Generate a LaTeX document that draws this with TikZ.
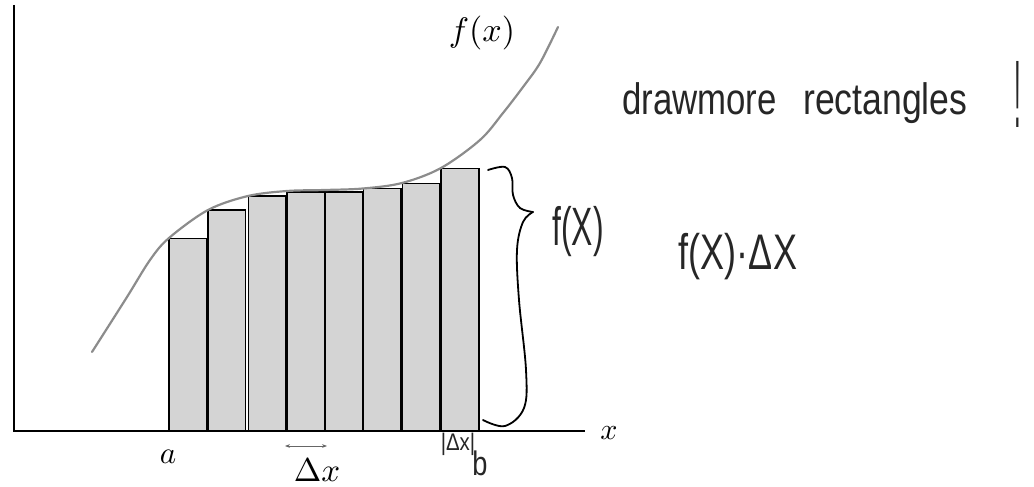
\documentclass[tikz,border=0pt]{standalone}
\usepackage{fontspec}
\usepackage{graphicx}
\newfontfamily\hwfont{Liberation Sans}
\usetikzlibrary{arrows.meta}
\newcommand{\hwtext}[4]{\scalebox{#2}[#3]{\fontsize{#1}{#1}\selectfont\hwfont #4}}
\newcommand{\mathlab}[2]{\scalebox{#1}{$#2$}}
\begin{document}
\begin{tikzpicture}[x=1pt,y=-1pt,
  axis/.style={line width=2.4pt,black},
  bar/.style={draw=black,line width=1.6pt,fill=black!17},
  curve/.style={line width=2.2pt,black!45,line cap=round},
  brace/.style={line width=1.8pt,black,line cap=round},
  hand/.style={inner sep=0pt,text=black!85},
  lab/.style={inner sep=0pt}]
\useasboundingbox (0,0) rectangle (1034,487);
% bars
\foreach \l/\t in {169/238.3, 207.7/210, 248.3/195.7, 286.7/191.7, 325/191.7, 363.3/188.3, 402.3/183.3, 441/168.3}{
  \draw[bar] (\l,431) rectangle ({\l+37.8},\t);
}
% curve
\draw[curve] plot[smooth,tension=0.55] coordinates {(92,352) (127,297) (150,260) (169,238) (208,210) (248,196) (287,191) (325,190) (363,188.5) (402,183) (441,168) (480,140) (503,113) (523,87) (540,63) (558,27)};
% axes
\coordinate (top) at (14,5);
\coordinate (origin) at (14,431);
\coordinate (xend) at (585,431);
\draw[axis] (top) -- (origin) -- (xend);
% brace
\draw[brace] plot[smooth,tension=0.6] coordinates {(488,170) (505,167) (512,178) (513,195) (520,208) (533,212)};
\draw[brace] plot[smooth,tension=0.6] coordinates {(533,212) (523,222) (517,250) (519,300) (526,370) (524,408) (505,426) (483,420)};
% math labels
\node[lab] (fx) at (482,33) {\mathlab{3.4}{f(x)}};
\node[lab] (a) at (168,457) {\mathlab{3.1}{a}};
\node[lab] (xl) at (609,433) {\mathlab{3.0}{x}};
\node[lab] (dx) at (317,470) {\mathlab{3.3}{\Delta x}};
% small double arrow
\coordinate (dxl) at (285,446);
\coordinate (dxr) at (327,446);
\draw[black!60,line width=0.9pt,{Stealth[length=5pt]}-{Stealth[length=5pt]}] (dxl) -- (dxr);
% handwritten
\node[hand,anchor=base west] (draw) at (622,114) {\hwtext{40}{0.87}{1.1}{drawmore}};
\node[hand,anchor=base west] (rect) at (803,114) {\hwtext{40}{0.89}{1.1}{rectangles}};
\node[hand,anchor=base] (excl) at (1018,127) {\hwtext{48}{0.5}{2}{!}};
\node[hand] (fxh) at (578,232) {\hwtext{54}{0.59}{1}{f(X)}};
\node[hand] (fdx) at (738,257) {\hwtext{50}{0.72}{1}{f(X)·ΔX}};
\node[hand] (dxh) at (458,444) {\hwtext{24}{0.85}{1}{|Δx|}};
\node[hand,anchor=base] (b) at (480,475) {\hwtext{34}{0.8}{1}{b}};
\end{tikzpicture}
\end{document}
